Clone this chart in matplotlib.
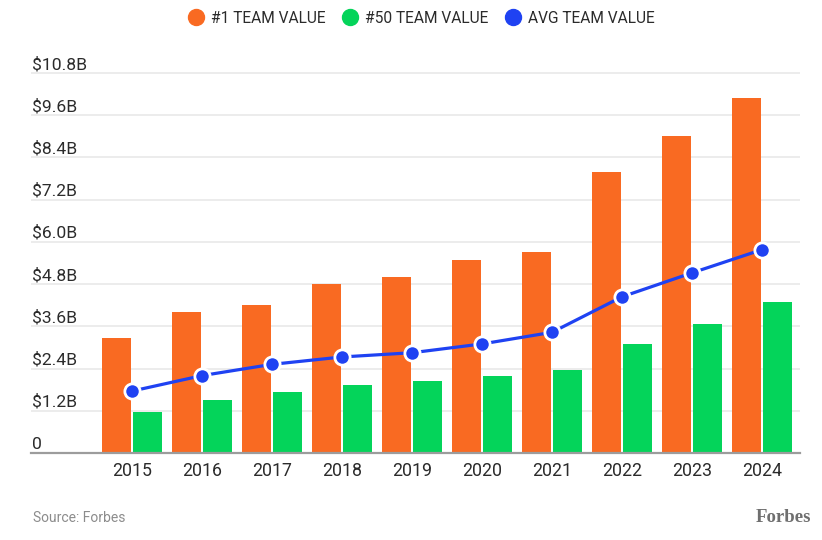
import matplotlib
matplotlib.use("Agg")
import matplotlib.pyplot as plt
from matplotlib.lines import Line2D
from matplotlib.transforms import offset_copy
import numpy as np

# values in billions of dollars
years = ["2015", "2016", "2017", "2018", "2019", "2020", "2021", "2022", "2023", "2024"]
top_team = [3.27, 4.0, 4.2, 4.8, 5.0, 5.5, 5.7, 8.0, 9.0, 10.1]
team_50 = [1.16, 1.5, 1.74, 1.93, 2.06, 2.18, 2.35, 3.1, 3.68, 4.28]
avg_team = [1.76, 2.2, 2.52, 2.73, 2.85, 3.1, 3.43, 4.44, 5.12, 5.78]
ytick_vals = [0, 1.2, 2.4, 3.6, 4.8, 6.0, 7.2, 8.4, 9.6, 10.8]
ytick_labels = ["0", "$1.2B", "$2.4B", "$3.6B", "$4.8B", "$6.0B", "$7.2B", "$8.4B", "$9.6B", "$10.8B"]

ORANGE = "#f96a22"
GREEN = "#04d45a"
BLUE = "#1f42f2"
TEXT = "#2b2b2b"

narrow = ["Liberation Sans Narrow", "Roboto", "DejaVu Sans"]
plt.rcParams["font.family"] = ["Roboto", "DejaVu Sans"]

fig = plt.figure(figsize=(8.22, 5.40), dpi=100)
ax = fig.add_axes([31 / 822, 87 / 540, 769 / 822, 387 / 540])

x = np.arange(len(years))
w = 0.414
off = 0.221
ax.bar(x - off, top_team, width=w, color=ORANGE, zorder=2)
ax.bar(x + off, team_50, width=w, color=GREEN, zorder=2)
ax.plot(x, avg_team, color=BLUE, lw=2.3, marker="o", markersize=11,
        markerfacecolor=BLUE, markeredgecolor="white", markeredgewidth=2, zorder=4)

ax.set_xlim(-1.443, 9.543)
ax.set_ylim(0, 11)

# gridlines with labels sitting just above them
ax.set_yticks(ytick_vals)
ax.set_yticklabels([])
ax.tick_params(axis="y", length=0)
ax.yaxis.grid(True, color="#e9e9e9", lw=1.2, zorder=0)
ax.set_axisbelow(True)
lab_tr = offset_copy(ax.get_yaxis_transform(), fig=fig, x=1, y=4, units="dots")
for v, lab in zip(ytick_vals, ytick_labels):
    ax.text(0, v, lab, transform=lab_tr, ha="left", va="baseline",
            fontsize=12.6, color=TEXT)

ax.set_xticks(x)
ax.set_xticklabels(years, fontsize=12.8, color=TEXT)
ax.tick_params(axis="x", length=0, pad=6.5)

for s in ["top", "left", "right"]:
    ax.spines[s].set_visible(False)
ax.spines["bottom"].set_color("#9c9c9c")
ax.spines["bottom"].set_linewidth(1.6)
ax.spines["bottom"].set_zorder(3)

handles = [
    Line2D([], [], ls="", marker="o", markersize=11.5, color=ORANGE, label="#1 TEAM VALUE"),
    Line2D([], [], ls="", marker="o", markersize=11.5, color=GREEN, label="#50 TEAM VALUE"),
    Line2D([], [], ls="", marker="o", markersize=11.5, color=BLUE, label="AVG TEAM VALUE"),
]
leg = fig.legend(handles=handles, loc="center", bbox_to_anchor=(0.513, 0.966), ncol=3,
                 frameon=False, handlelength=1.0, handletextpad=0.45, columnspacing=1.1,
                 prop={"family": narrow, "size": 11.2})
for t in leg.get_texts():
    t.set_color(TEXT)

fig.text(33 / 822, 1 - 518 / 540, "Source: Forbes", ha="left", va="center",
         fontsize=10, color="#8c8c8c", family=narrow)
fig.text(811 / 822, 1 - 517 / 540, "Forbes", ha="right", va="center",
         fontsize=13.5, color="#6f6f6f", family=["Liberation Serif", "DejaVu Serif"],
         fontweight="bold")

fig.savefig("out.png", dpi=100, facecolor="white")
